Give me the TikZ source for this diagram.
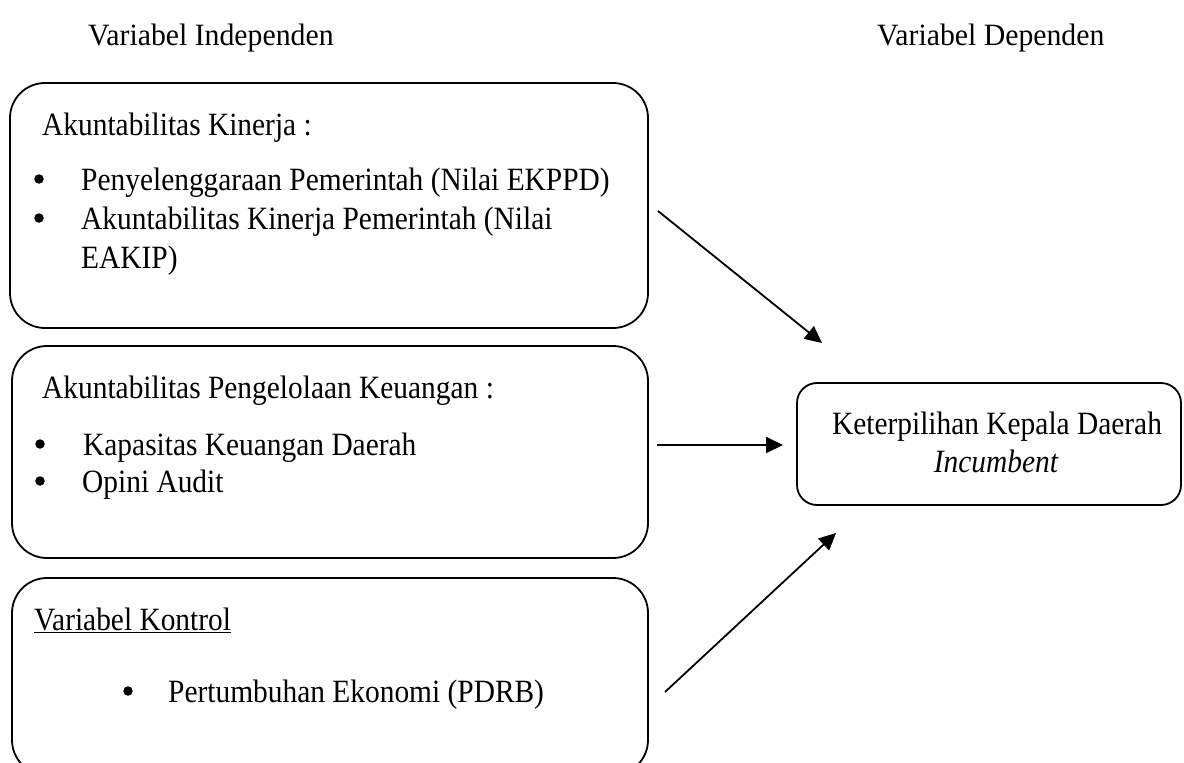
\documentclass[tikz,border=0pt]{standalone}
\usepackage{fontspec}
\setmainfont{Liberation Serif}
\newfontfamily\hdfont{Liberation Serif}[FakeStretch=0.96]
\newfontfamily\bxfont{Liberation Serif}[FakeStretch=0.905]
\usetikzlibrary{arrows.meta}
\begin{document}
\begin{tikzpicture}[x=1pt,y=-1pt,
  bigbox/.style={draw, line width=1.8pt, rounded corners=35pt, inner sep=0pt},
  depbox/.style={draw, line width=1.8pt, rounded corners=20pt, inner sep=0pt},
  htxt/.style={anchor=base west, inner sep=0pt, font=\hdfont\fontsize{31}{39}\selectfont},
  txt/.style={anchor=base west, inner sep=0pt, font=\bxfont\fontsize{32.5}{39}\selectfont},
  ctxt/.style={anchor=base, inner sep=0pt, font=\bxfont\fontsize{32.5}{39}\selectfont},
  dot/.style={circle, fill=black, inner sep=0pt, minimum size=9.5pt},
  link/.style={line width=1.8pt, -{Triangle[length=17pt,width=16pt]}}]
\useasboundingbox (0,0) rectangle (1184,763);
\clip (0,0) rectangle (1184,763);
% headers
\node[htxt] (hind) at (88,45) {Variabel Independen};
\node[htxt] (hdep) at (877,45) {Variabel Dependen};
% boxes
\node[bigbox, minimum width=638pt, minimum height=245pt] (b1) at (329,205.5) {};
\node[bigbox, minimum width=636pt, minimum height=212pt] (b2) at (330,452) {};
\node[bigbox, minimum width=636pt, minimum height=197pt] (b3) at (330,676.5) {};
\node[depbox, minimum width=384pt, minimum height=122pt] (dep) at (989,444) {};
% box 1 text
\node[txt] (t1) at (42,135) {Akuntabilitas Kinerja :};
\node[dot] (t1b1) at (39,179) {};
\node[txt] (t1i1) at (81,190) {Penyelenggaraan Pemerintah (Nilai EKPPD)};
\node[dot] (t1b2) at (39,218) {};
\node[txt] (t1i2) at (81,229) {Akuntabilitas Kinerja Pemerintah (Nilai};
\node[txt] (t1i3) at (81,268) {EAKIP)};
% box 2 text
\node[txt] (t2) at (42,398) {Akuntabilitas Pengelolaan Keuangan :};
\node[dot] (t2b1) at (40,444) {};
\node[txt] (t2i1) at (83,455) {Kapasitas Keuangan Daerah};
\node[dot] (t2b2) at (40,481) {};
\node[txt] (t2i2) at (82,492) {Opini Audit};
% box 3 text
\node[txt] (t3) at (34,630) {\underline{Variabel Kontrol}};
\node[dot] (t3b1) at (128,691) {};
\node[txt] (t3i1) at (168,702) {Pertumbuhan Ekonomi (PDRB)};
% dependent text
\node[ctxt] (d1) at (997,434) {Keterpilihan Kepala Daerah};
\node[ctxt] (d2) at (996,472) {\itshape Incumbent};
% arrows
\coordinate (a1s) at (658,211);
\coordinate (a1e) at (822,343);
\coordinate (a2s) at (657,445);
\coordinate (a2e) at (783,445);
\coordinate (a3s) at (665,692);
\coordinate (a3e) at (836,533);
\draw[link] (a1s) -- (a1e);
\draw[link] (a2s) -- (a2e);
\draw[link] (a3s) -- (a3e);
\end{tikzpicture}
\end{document}
